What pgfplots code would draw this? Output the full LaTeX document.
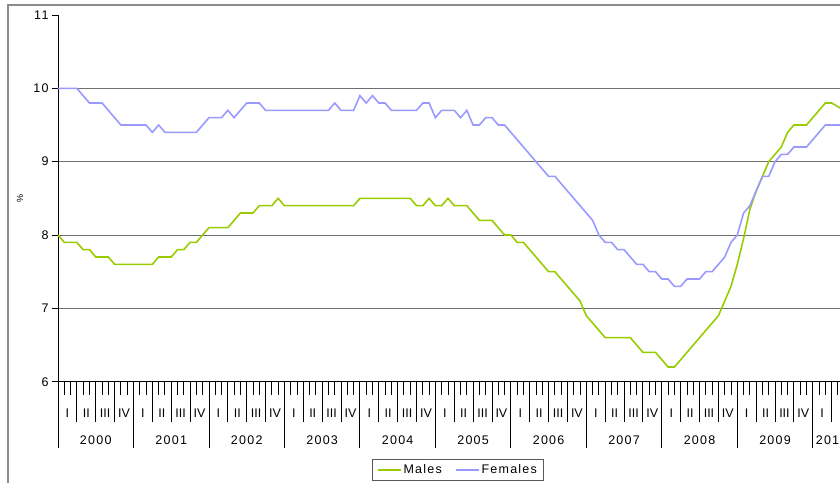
\documentclass[border=0pt]{standalone}
\usepackage{fontspec}
\setmainfont{Liberation Sans}[LetterSpace=10]
\newfontfamily\plainsans{Liberation Sans}
\usepackage{pgfplots}
\usepackage{pgfplotstable}
\pgfplotsset{compat=1.18}
\definecolor{males}{HTML}{99CC00}
\definecolor{females}{HTML}{9999FF}
\definecolor{gridc}{HTML}{6E6E6E}
\newcommand\fs{\fontsize{12.5}{15}\selectfont}

% month index (0 = Jan 2000), Males, Females
\pgfplotstableread{
m M F
0 8.0 10.0
1 7.9 10.0
2 7.9 10.0
3 7.9 10.0
4 7.8 9.9
5 7.8 9.8
6 7.7 9.8
7 7.7 9.8
8 7.7 9.7
9 7.6 9.6
10 7.6 9.5
11 7.6 9.5
12 7.6 9.5
13 7.6 9.5
14 7.6 9.5
15 7.6 9.4
16 7.7 9.5
17 7.7 9.4
18 7.7 9.4
19 7.8 9.4
20 7.8 9.4
21 7.9 9.4
22 7.9 9.4
23 8.0 9.5
24 8.1 9.6
25 8.1 9.6
26 8.1 9.6
27 8.1 9.7
28 8.2 9.6
29 8.3 9.7
30 8.3 9.8
31 8.3 9.8
32 8.4 9.8
33 8.4 9.7
34 8.4 9.7
35 8.5 9.7
36 8.4 9.7
37 8.4 9.7
38 8.4 9.7
39 8.4 9.7
40 8.4 9.7
41 8.4 9.7
42 8.4 9.7
43 8.4 9.7
44 8.4 9.8
45 8.4 9.7
46 8.4 9.7
47 8.4 9.7
48 8.5 9.9
49 8.5 9.8
50 8.5 9.9
51 8.5 9.8
52 8.5 9.8
53 8.5 9.7
54 8.5 9.7
55 8.5 9.7
56 8.5 9.7
57 8.4 9.7
58 8.4 9.8
59 8.5 9.8
60 8.4 9.6
61 8.4 9.7
62 8.5 9.7
63 8.4 9.7
64 8.4 9.6
65 8.4 9.7
66 8.3 9.5
67 8.2 9.5
68 8.2 9.6
69 8.2 9.6
70 8.1 9.5
71 8.0 9.5
72 8.0 9.4
73 7.9 9.3
74 7.9 9.2
75 7.8 9.1
76 7.7 9.0
77 7.6 8.9
78 7.5 8.8
79 7.5 8.8
80 7.4 8.7
81 7.3 8.6
82 7.2 8.5
83 7.1 8.4
84 6.9 8.3
85 6.8 8.2
86 6.7 8.0
87 6.6 7.9
88 6.6 7.9
89 6.6 7.8
90 6.6 7.8
91 6.6 7.7
92 6.5 7.6
93 6.4 7.6
94 6.4 7.5
95 6.4 7.5
96 6.3 7.4
97 6.2 7.4
98 6.2 7.3
99 6.3 7.3
100 6.4 7.4
101 6.5 7.4
102 6.6 7.4
103 6.7 7.5
104 6.8 7.5
105 6.9 7.6
106 7.1 7.7
107 7.3 7.9
108 7.6 8.0
109 7.95 8.3
110 8.35 8.4
111 8.6 8.6
112 8.8 8.8
113 9.0 8.8
114 9.1 9.0
115 9.2 9.1
116 9.4 9.1
117 9.5 9.2
118 9.5 9.2
119 9.5 9.2
120 9.6 9.3
121 9.7 9.4
122 9.8 9.5
123 9.8 9.5
124 9.75 9.5
125 9.7 9.5
126 9.7 9.5
}\ratedata

\begin{document}
\begin{tikzpicture}[font=\fs]
\useasboundingbox (-58pt,-100.3pt) rectangle (782pt,381.7pt);
\clip (-58pt,-100.3pt) rectangle (782pt,381.7pt);
\draw[gridc!80, line width=1.3pt] (-50pt,-150pt) -- (-50pt,376.7pt) -- (900pt,376.7pt);

\begin{axis}[
  scale only axis, width=792.5pt, height=366.7pt,
  xmin=0, xmax=126, ymin=6, ymax=11,
  axis lines=left, axis line style={-, black, line width=0.9pt},
  xtick=\empty,
  ytick={6,7,8,9,10}, extra y ticks={11}, extra y tick style={grid=none},
  ymajorgrids, grid style={gridc, line width=1pt},
  tick align=outside, major tick length=6pt, tick style={black, line width=0.9pt},
  yticklabel style={font=\fs, /pgf/number format/assume math mode=true},
  ylabel={\%}, ylabel style={at={(axis description cs:-0.048,0.5)}, anchor=center, font=\fontsize{9}{10}\selectfont},
  legend style={at={(0.3962,-0.2116)}, anchor=north west, legend columns=2,
    draw=black!65, line width=1pt, font=\fs, inner xsep=4.5pt, inner ysep=3pt,
    /tikz/every even column/.append style={column sep=11pt}},
  legend image code/.code={\draw[#1] (0pt,0pt) -- (23pt,0pt);},
]
\addplot[males, line width=1.6pt] table[x=m, y=M] {\ratedata};
\addlegendentry{Males}
\addplot[females, line width=1.6pt] table[x=m, y=F] {\ratedata};
\addlegendentry{Females}
\end{axis}

\begin{axis}[
  scale only axis, width=792.5pt, height=366.7pt,
  xmin=0, xmax=126, ymin=6, ymax=11, clip=false,
  hide y axis, axis x line*=bottom, x axis line style={-, black, line width=0.9pt},
  xtick={0,3,...,126}, xticklabels={}, minor x tick num=2,
  extra x ticks={0,12,...,120}, extra x tick labels={},
  extra x tick style={major tick length=66.3pt},
  tick align=outside, major tick length=40pt, minor tick length=13.3pt,
  tick style={black, line width=0.9pt},
]
\pgfplotsinvokeforeach{0,...,9}{
  \node[font=\plainsans\fs] at (axis cs:{12*#1+1.5},6) [yshift=-31.3pt] {I};
  \node[font=\plainsans\fs] at (axis cs:{12*#1+4.5},6) [yshift=-31.3pt] {II};
  \node[font=\plainsans\fs] at (axis cs:{12*#1+7.5},6) [yshift=-31.3pt] {III};
  \node[font=\plainsans\fs] at (axis cs:{12*#1+10.5},6) [yshift=-31.3pt] {IV};
  \node at (axis cs:{12*#1+6},6) [yshift=-58.3pt] {\number\numexpr2000+#1\relax};
}
\node[font=\plainsans\fs] at (axis cs:121.5,6) [yshift=-31.3pt] {I};
\node at (axis cs:123,6) [yshift=-58.3pt] {2010};
\end{axis}
\end{tikzpicture}
\end{document}
